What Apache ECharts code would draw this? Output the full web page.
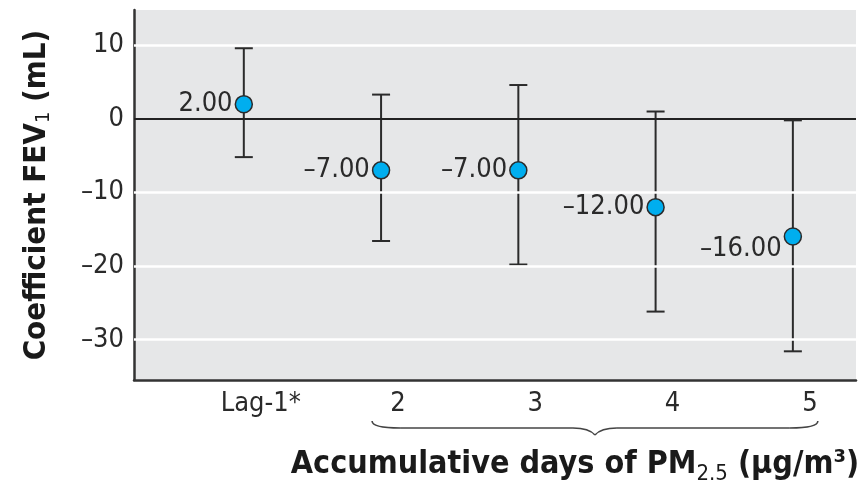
<!DOCTYPE html>
<html>
<head>
<meta charset="utf-8">
<script src="https://cdn.jsdelivr.net/npm/echarts@6/dist/echarts.min.js"></script>
<style>
  html, body { margin: 0; padding: 0; background: #ffffff; }
  #chart { width: 859px; height: 485px; }
</style>
</head>
<body>
<div id="chart"></div>
<script>
// Lag categories and their positions on the x scale
const categories = ['Lag-1*', '2', '3', '4', '5'];
const positions = [1, 2, 3, 4, 5];

// Estimated change in FEV1 (mL) with 95% confidence bounds
const coefficients = [2.00, -7.00, -7.00, -12.00, -16.00];
const ciLower = [-5.2, -16.6, -19.8, -26.2, -31.6];
const ciUpper = [9.6, 3.3, 4.6, 1.0, -0.2];

// Y axis tick labels and light reference lines
const yTicks = [10, 0, -10, -20, -30];
const gridValues = [10, -10, -20, -30];

const FONT = "'Liberation Sans Narrow', 'DejaVu Sans Condensed', 'Roboto Condensed', 'Liberation Sans', sans-serif";
const INK = '#2a2a2a';
const dash = s => String(s).replace('-', '\u2013');

const errorData = positions.map((x, i) => [x, ciLower[i], ciUpper[i]]);
const pointData = positions.map((x, i) => {
  const item = { value: [x, coefficients[i]] };
  if (i === 4) item.label = { offset: [0, 12] };
  return item;
});

const chart = echarts.init(document.getElementById('chart'), null, { renderer: 'canvas' });

chart.setOption({
  animation: false,
  backgroundColor: '#ffffff',
  grid: {
    left: 134, top: 10, right: 3, bottom: 105,
    outerBoundsMode: 'none',
    containLabel: false,
    show: true, backgroundColor: '#e6e7e8', borderWidth: 0
  },
  xAxis: {
    type: 'value',
    min: 0.2, max: 5.46,
    axisLine: { show: true, onZero: false, lineStyle: { color: '#333', width: 2.5 } },
    axisTick: { show: false },
    splitLine: { show: false },
    axisLabel: {
      customValues: positions,
      formatter: v => categories[Math.round(v) - 1],
      fontFamily: FONT, fontSize: 27, color: INK,
      margin: 10, padding: [0, 0, 0, 34]
    },
    name: '{b|Accumulative days of PM}{s|2.5}{b| (\u00b5g/m\u00b3)}',
    nameLocation: 'middle',
    nameGap: 65,
    nameTextStyle: {
      padding: [0, 0, 0, 160],
      rich: {
        b: { fontFamily: FONT, fontSize: 32, fontWeight: 'bold', color: '#1a1a1a' },
        s: { fontFamily: FONT, fontSize: 22, color: '#1a1a1a', padding: [18, 0, 0, 0] }
      }
    }
  },
  yAxis: {
    type: 'value',
    min: -35.5, max: 14.8,
    axisLine: { show: true, onZero: false, lineStyle: { color: '#333', width: 2.5 } },
    axisTick: { show: false },
    splitLine: { show: false },
    axisLabel: {
      customValues: yTicks,
      formatter: v => dash(v),
      fontFamily: FONT, fontSize: 27, color: INK, margin: 10
    },
    name: '{b|Coefficient FEV}{s|1}{b| (mL)}',
    nameLocation: 'middle',
    nameGap: 80,
    nameRotate: 90,
    nameTextStyle: {
      rich: {
        b: { fontFamily: FONT, fontSize: 31, fontWeight: 'bold', color: '#1a1a1a' },
        s: { fontFamily: FONT, fontSize: 20, color: '#1a1a1a', padding: [14, 0, 0, 0] }
      }
    }
  },
  series: [
    {
      // reference lines behind the marks
      type: 'line',
      data: [],
      silent: true,
      z: 1,
      markLine: {
        silent: true,
        symbol: 'none',
        label: { show: false },
        data: gridValues.map(v => ({ yAxis: v, lineStyle: { color: '#ffffff', width: 2.5, type: 'solid' } }))
          .concat([{ yAxis: 0, lineStyle: { color: '#222', width: 2, type: 'solid' } }])
      }
    },
    {
      // confidence interval whiskers
      type: 'custom',
      z: 3,
      data: errorData,
      renderItem: (params, api) => {
        const x = api.value(0);
        const lo = api.coord([x, api.value(1)]);
        const hi = api.coord([x, api.value(2)]);
        const cap = 9;
        const st = { stroke: '#2b2b2b', lineWidth: 2 };
        return {
          type: 'group',
          children: [
            { type: 'line', shape: { x1: hi[0], y1: hi[1], x2: lo[0], y2: lo[1] }, style: st },
            { type: 'line', shape: { x1: hi[0] - cap, y1: hi[1], x2: hi[0] + cap, y2: hi[1] }, style: st },
            { type: 'line', shape: { x1: lo[0] - cap, y1: lo[1], x2: lo[0] + cap, y2: lo[1] }, style: st }
          ]
        };
      }
    },
    {
      // point estimates
      type: 'scatter',
      z: 5,
      data: pointData,
      symbol: 'circle',
      symbolSize: 17,
      itemStyle: { color: '#00aeef', borderColor: '#2b2b2b', borderWidth: 1.5, opacity: 1 },
      label: {
        show: true,
        position: 'left',
        distance: 2,
        formatter: p => dash(p.value[1].toFixed(2)),
        fontFamily: FONT, fontSize: 27, color: INK
      }
    }
  ]
});

// Brace grouping the accumulative-day lags 2 to 5
const pL = chart.convertToPixel({ gridIndex: 0 }, [2, 0])[0] - 9;
const pR = chart.convertToPixel({ gridIndex: 0 }, [5, 0])[0] + 25;
const mid = (pL + pR) / 2;
const y0 = 421, y1 = 428, yTip = 435;
const braceStyle = { fill: null, stroke: '#444', lineWidth: 1.6 };
const braceSegments = [
  { type: 'bezierCurve', shape: { x1: pL, y1: y0, cpx1: pL, cpy1: y1, x2: pL + 28, y2: y1 } },
  { type: 'line', shape: { x1: pL + 28, y1: y1, x2: mid - 22, y2: y1 } },
  { type: 'bezierCurve', shape: { x1: mid - 22, y1: y1, cpx1: mid - 6, cpy1: y1, x2: mid, y2: yTip } },
  { type: 'bezierCurve', shape: { x1: mid, y1: yTip, cpx1: mid + 6, cpy1: y1, x2: mid + 22, y2: y1 } },
  { type: 'line', shape: { x1: mid + 22, y1: y1, x2: pR - 28, y2: y1 } },
  { type: 'bezierCurve', shape: { x1: pR - 28, y1: y1, cpx1: pR, cpy1: y1, x2: pR, y2: y0 } }
].map(seg => Object.assign(seg, { silent: true, style: braceStyle }));
chart.setOption({ graphic: braceSegments });
</script>
</body>
</html>
